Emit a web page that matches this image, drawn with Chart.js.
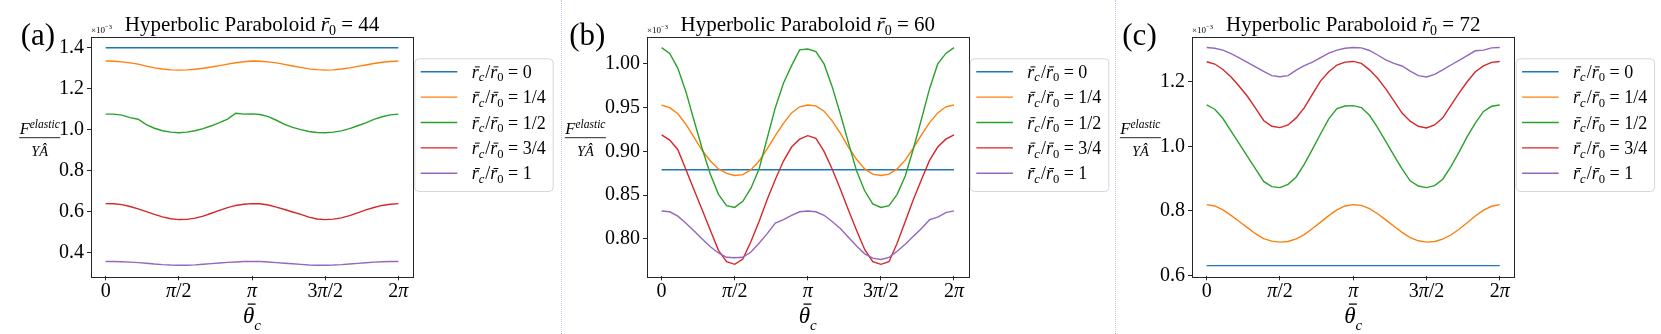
<!DOCTYPE html>
<html>
<head>
<meta charset="utf-8">
<script src="https://cdn.jsdelivr.net/npm/chart.js"></script>
<style>
  body { margin: 0; background: #fff; }
  #wrap { position: relative; width: 1661px; height: 334px; overflow: hidden; background: #fff; }
  .panel { position: absolute; top: 0; height: 334px; }
  .sep { position: absolute; top: 0; height: 334px; width: 0; border-left: 1px dotted #b9c9ea; }
</style>
</head>
<body>
<div id="wrap">
  <div class="panel" style="left:0;width:561px"><canvas id="chartA"></canvas></div>
  <div class="sep" style="left:561px"></div>
  <div class="panel" style="left:562px;width:553px"><canvas id="chartB"></canvas></div>
  <div class="sep" style="left:1115px"></div>
  <div class="panel" style="left:1116px;width:545px"><canvas id="chartC"></canvas></div>
</div>
<script>
// angle theta_c in degrees (0 .. 2pi)
const angles = [0,10,20,30,40,50,60,70,80,90,100,110,120,130,140,150,160,170,180,
  190,200,210,220,230,240,250,260,270,280,290,300,310,320,330,340,350,360];
const ratioLabels = ['0', '1/4', '1/2', '3/4', '1'];
const xTickValues = [0, 90, 180, 270, 360];
const xTickLabels = ['0', 'π/2', 'π', '3π/2', '2π'];

// (a) r0 = 44, values in units of 1e-3
const a_r0 = [1.400,1.400,1.400,1.400,1.400,1.400,1.400,1.400,1.400,1.400,1.400,1.400,1.400,1.400,1.400,1.400,1.400,1.400,1.400,
  1.400,1.400,1.400,1.400,1.400,1.400,1.400,1.400,1.400,1.400,1.400,1.400,1.400,1.400,1.400,1.400,1.400,1.400];
const a_r14 = [1.335,1.334,1.331,1.326,1.320,1.310,1.302,1.296,1.292,1.291,1.292,1.295,1.300,1.306,1.313,1.320,1.327,1.332,1.335,
  1.334,1.331,1.326,1.319,1.311,1.304,1.297,1.293,1.291,1.292,1.296,1.302,1.309,1.316,1.323,1.329,1.333,1.335];
const a_r12 = [1.076,1.076,1.071,1.059,1.051,1.025,1.007,0.995,0.988,0.985,0.988,0.995,1.005,1.019,1.034,1.052,1.080,1.076,1.077,
  1.074,1.064,1.046,1.026,1.011,1.000,0.991,0.986,0.985,0.988,0.994,1.005,1.019,1.033,1.050,1.063,1.072,1.076];
const a_r34 = [0.639,0.638,0.634,0.625,0.613,0.600,0.586,0.574,0.565,0.561,0.562,0.568,0.578,0.592,0.606,0.619,0.630,0.636,0.639,
  0.638,0.632,0.622,0.610,0.598,0.586,0.573,0.564,0.561,0.563,0.569,0.580,0.594,0.608,0.620,0.630,0.636,0.639];
const a_r1 = [0.356,0.356,0.355,0.353,0.351,0.348,0.344,0.341,0.339,0.338,0.338,0.340,0.343,0.346,0.349,0.352,0.354,0.356,0.356,
  0.356,0.354,0.351,0.348,0.345,0.342,0.339,0.338,0.338,0.339,0.341,0.344,0.347,0.350,0.353,0.355,0.356,0.356];
const a_yTicks = [0.4, 0.6, 0.8, 1.0, 1.2, 1.4];

// (b) r0 = 60
const b_r0 = [0.879,0.879,0.879,0.879,0.879,0.879,0.879,0.879,0.879,0.879,0.879,0.879,0.879,0.879,0.879,0.879,0.879,0.879,0.879,
  0.879,0.879,0.879,0.879,0.879,0.879,0.879,0.879,0.879,0.879,0.879,0.879,0.879,0.879,0.879,0.879,0.879,0.879];
const b_r14 = [0.953,0.950,0.943,0.931,0.916,0.901,0.889,0.880,0.875,0.8725,0.8735,0.879,0.889,0.903,0.918,0.932,0.944,0.951,0.953,
  0.952,0.946,0.935,0.921,0.905,0.891,0.880,0.874,0.8725,0.874,0.880,0.890,0.904,0.919,0.933,0.944,0.951,0.953];
const b_r12 = [1.0186,1.012,0.995,0.968,0.935,0.903,0.874,0.851,0.838,0.836,0.843,0.858,0.880,0.915,0.950,0.978,0.998,1.016,1.017,
  1.014,1.000,0.974,0.943,0.910,0.878,0.855,0.840,0.836,0.838,0.851,0.872,0.903,0.937,0.972,1.000,1.012,1.0186];
const b_r34 = [0.919,0.913,0.902,0.879,0.856,0.833,0.810,0.787,0.774,0.771,0.777,0.797,0.820,0.845,0.868,0.889,0.905,0.914,0.918,
  0.915,0.900,0.880,0.857,0.833,0.810,0.788,0.774,0.771,0.774,0.795,0.820,0.845,0.868,0.890,0.905,0.914,0.919];
const b_r1 = [0.832,0.831,0.826,0.818,0.809,0.800,0.791,0.784,0.779,0.7785,0.779,0.785,0.795,0.806,0.818,0.822,0.827,0.831,0.832,
  0.831,0.827,0.820,0.812,0.802,0.792,0.783,0.778,0.7765,0.779,0.786,0.794,0.803,0.812,0.822,0.825,0.830,0.832];
const b_yTicks = [0.80, 0.85, 0.90, 0.95, 1.00];

// (c) r0 = 72
const c_r0 = [0.630,0.630,0.630,0.630,0.630,0.630,0.630,0.630,0.630,0.630,0.630,0.630,0.630,0.630,0.630,0.630,0.630,0.630,0.630,
  0.630,0.630,0.630,0.630,0.630,0.630,0.630,0.630,0.630,0.630,0.630,0.630,0.630,0.630,0.630,0.630,0.630,0.630];
const c_r14 = [0.819,0.815,0.803,0.786,0.767,0.748,0.729,0.714,0.706,0.703,0.705,0.713,0.726,0.745,0.765,0.785,0.803,0.815,0.819,
  0.817,0.807,0.791,0.772,0.752,0.733,0.717,0.707,0.703,0.705,0.712,0.725,0.743,0.763,0.784,0.802,0.814,0.819];
const c_r12 = [1.128,1.115,1.086,1.047,1.008,0.969,0.930,0.891,0.875,0.872,0.882,0.905,0.945,0.991,1.039,1.085,1.117,1.125,1.126,
  1.120,1.096,1.058,1.015,0.972,0.930,0.893,0.877,0.872,0.878,0.898,0.937,0.982,1.030,1.072,1.108,1.124,1.128];
const c_r34 = [1.262,1.255,1.238,1.215,1.186,1.155,1.118,1.080,1.062,1.058,1.066,1.088,1.120,1.162,1.203,1.231,1.252,1.261,1.263,
  1.257,1.237,1.211,1.178,1.141,1.103,1.078,1.062,1.057,1.066,1.088,1.127,1.165,1.200,1.231,1.249,1.260,1.263];
const c_r1 = [1.306,1.304,1.298,1.287,1.274,1.260,1.246,1.232,1.219,1.2155,1.219,1.236,1.250,1.261,1.275,1.289,1.298,1.304,1.306,
  1.305,1.297,1.283,1.268,1.257,1.249,1.233,1.219,1.215,1.223,1.237,1.252,1.266,1.281,1.296,1.298,1.305,1.306];
const c_yTicks = [0.6, 0.8, 1.0, 1.2];

const colors = ['#1f77b4', '#ff7f0e', '#2ca02c', '#d62728', '#9467bd'];
const SERIF = "'Liberation Serif', 'Times New Roman', Times, 'DejaVu Serif', serif";
const INK = '#000';

function font(size, italic) {
  return (italic ? 'italic ' : '') + size + 'px ' + SERIF;
}

// draws a row of text pieces (for the math-like labels), returns end x
function drawRuns(ctx, runs, x, y) {
  runs.forEach(r => {
    ctx.font = r.f;
    const w = ctx.measureText(r.t).width;
    ctx.fillText(r.t, x, y + (r.dy || 0));
    if (r.bar) {
      const s = r.s;
      ctx.save();
      ctx.strokeStyle = INK;
      ctx.lineWidth = Math.max(0.8, s * 0.055);
      const by = y + (r.dy || 0) - s * r.bar;
      ctx.beginPath();
      ctx.moveTo(x + w * 0.25 + s * 0.08, by);
      ctx.lineTo(x + w * 0.95 + s * 0.08, by);
      ctx.stroke();
      ctx.restore();
    }
    x += w + (r.sp || 0);
  });
  return x;
}

function runsWidth(ctx, runs) {
  let w = 0;
  runs.forEach(r => { ctx.font = r.f; w += ctx.measureText(r.t).width + (r.sp || 0); });
  return w;
}

function ratioRuns(v, s) {
  return [
    {t: 'r', f: font(s, true), s: s, bar: 0.6},
    {t: 'c', f: font(s * 0.7, true), dy: s * 0.2, sp: 1},
    {t: '/', f: font(s)},
    {t: 'r', f: font(s, true), s: s, bar: 0.6},
    {t: '0', f: font(s * 0.7), dy: s * 0.2},
    {t: ' = ', f: font(s)},
    {t: v, f: font(s)}
  ];
}

// tick label with italic pi, upright digits
function tickRuns(label, s) {
  return label.split('').map(ch => ({t: ch, f: font(s, ch === 'π')}));
}

const panels = [
  {id: 'chartA', letter: '(a)', r0: '44', data: [a_r0, a_r14, a_r12, a_r34, a_r1],
   yMin: 0.284, yMax: 1.454, yTicks: a_yTicks, dec: 1, axisW: 91, padR: 148, letterX: 20.7, fracX: 39.7},
  {id: 'chartB', letter: '(b)', r0: '60', data: [b_r0, b_r14, b_r12, b_r34, b_r1],
   yMin: 0.7573, yMax: 1.0311, yTicks: b_yTicks, dec: 2, axisW: 85, padR: 146.4, letterX: 7.3, fracX: 23.4},
  {id: 'chartC', letter: '(c)', r0: '72', data: [c_r0, c_r14, c_r12, c_r34, c_r1],
   yMin: 0.597, yMax: 1.3397, yTicks: c_yTicks, dec: 1, axisW: 76, padR: 146.6, letterX: 6.3, fracX: 24.4}
];

function decorPlugin(p) {
  return {
    id: 'decor',
    afterDraw(chart) {
      const ctx = chart.ctx;
      const ca = chart.chartArea;
      const cx = (ca.left + ca.right) / 2;
      ctx.save();
      ctx.fillStyle = INK;
      ctx.textBaseline = 'alphabetic';
      ctx.textAlign = 'left';

      // frame
      ctx.strokeStyle = '#262626';
      ctx.lineWidth = 1;
      ctx.strokeRect(Math.round(ca.left) + 0.5, Math.round(ca.top) + 0.5,
        Math.round(ca.right - ca.left), Math.round(ca.bottom - ca.top));

      // x tick labels at the scale's own tick positions
      const xs = chart.scales.x;
      xTickValues.forEach((v, i) => {
        const runs = tickRuns(xTickLabels[i], 20);
        const px = xs.getPixelForValue(v);
        drawRuns(ctx, runs, px - runsWidth(ctx, runs) / 2, 296.5);
      });

      // title
      const title = [
        {t: 'Hyperbolic Paraboloid ', f: font(21)},
        {t: 'r', f: font(21, true), s: 21, bar: 0.6},
        {t: '0', f: font(14), dy: 3.7},
        {t: ' = ', f: font(21)},
        {t: p.r0, f: font(21)}
      ];
      drawRuns(ctx, title, cx - runsWidth(ctx, title) / 2, 31);

      // offset text
      drawRuns(ctx, [
        {t: '×10', f: font(9)},
        {t: '−3', f: font(6.5), dy: -4}
      ], ca.left, 32.5);

      // panel letter
      ctx.font = font(31);
      ctx.fillText(p.letter, p.letterX, 45);

      // y label as a fraction
      const num = [
        {t: 'F', f: font(16.5, true)},
        {t: 'elastic', f: font(11.5, true), dy: -6}
      ];
      const den = [{t: 'YÂ', f: font(14.5, true)}];
      const nw = runsWidth(ctx, num);
      drawRuns(ctx, num, p.fracX - nw / 2, 133.5);
      drawRuns(ctx, den, p.fracX - runsWidth(ctx, den) / 2, 155.5);
      ctx.beginPath();
      ctx.lineWidth = 1;
      ctx.moveTo(p.fracX - nw / 2 - 0.5, 137.7);
      ctx.lineTo(p.fracX + nw / 2 + 0.5, 137.7);
      ctx.stroke();

      // x label
      const xl = [
        {t: 'θ', f: font(23, true), s: 23, bar: 0.8},
        {t: 'c', f: font(15, true), dy: 7}
      ];
      drawRuns(ctx, xl, cx - runsWidth(ctx, xl) / 2, 322.5);

      // legend
      const lx = ca.right + 1.3, ly = 58.3, lw = 138.4, lh = 132.7;
      ctx.beginPath();
      ctx.roundRect(lx + 0.5, ly + 0.5, lw, lh, 4);
      ctx.fillStyle = 'rgba(255,255,255,0.8)';
      ctx.fill();
      ctx.strokeStyle = '#d6d6d6';
      ctx.stroke();
      chart.data.datasets.forEach((ds, i) => {
        const ey = 71.7 + i * 25.4;
        ctx.beginPath();
        ctx.strokeStyle = ds.borderColor;
        ctx.lineWidth = 1.4;
        ctx.moveTo(lx + 6.4, ey);
        ctx.lineTo(lx + 43, ey);
        ctx.stroke();
        ctx.fillStyle = INK;
        drawRuns(ctx, ratioRuns(ratioLabels[i], 18), lx + 57.4, ey + 6);
      });
      ctx.restore();
    }
  };
}

panels.forEach(p => {
  const ctx = document.getElementById(p.id);
  new Chart(ctx, {
    type: 'line',
    data: {
      datasets: p.data.map((vals, i) => ({
        label: 'r_c/r_0 = ' + ratioLabels[i],
        data: angles.map((a, k) => ({x: a, y: vals[k]})),
        borderColor: colors[i],
        backgroundColor: colors[i],
        borderWidth: 1.4,
        pointRadius: 0,
        tension: 0,
        fill: false,
        order: 4 - i
      }))
    },
    options: {
      responsive: true,
      maintainAspectRatio: false,
      animation: false,
      events: [],
      layout: { padding: { left: 0, right: p.padR, top: 36.7, bottom: 0 } },
      plugins: { legend: { display: false }, tooltip: { enabled: false }, title: { display: false } },
      scales: {
        x: {
          type: 'linear',
          min: -18, max: 378,
          border: { display: false },
          grid: { drawOnChartArea: false, drawTicks: true, tickLength: 4, tickColor: '#262626', tickWidth: 1 },
          ticks: { display: false },
          afterBuildTicks: s => { s.ticks = xTickValues.map(v => ({value: v})); },
          afterFit: s => { s.height = 57.7; }
        },
        y: {
          type: 'linear',
          min: p.yMin, max: p.yMax,
          border: { display: false },
          grid: { drawOnChartArea: false, drawTicks: true, tickLength: 4, tickColor: '#262626', tickWidth: 1 },
          ticks: {
            padding: 3, color: INK, font: { family: SERIF, size: 20 },
            callback: v => v.toFixed(p.dec)
          },
          afterBuildTicks: s => { s.ticks = p.yTicks.map(v => ({value: v})); },
          afterFit: s => { s.width = p.axisW; }
        }
      }
    },
    plugins: [decorPlugin(p)]
  });
});
</script>
</body>
</html>
